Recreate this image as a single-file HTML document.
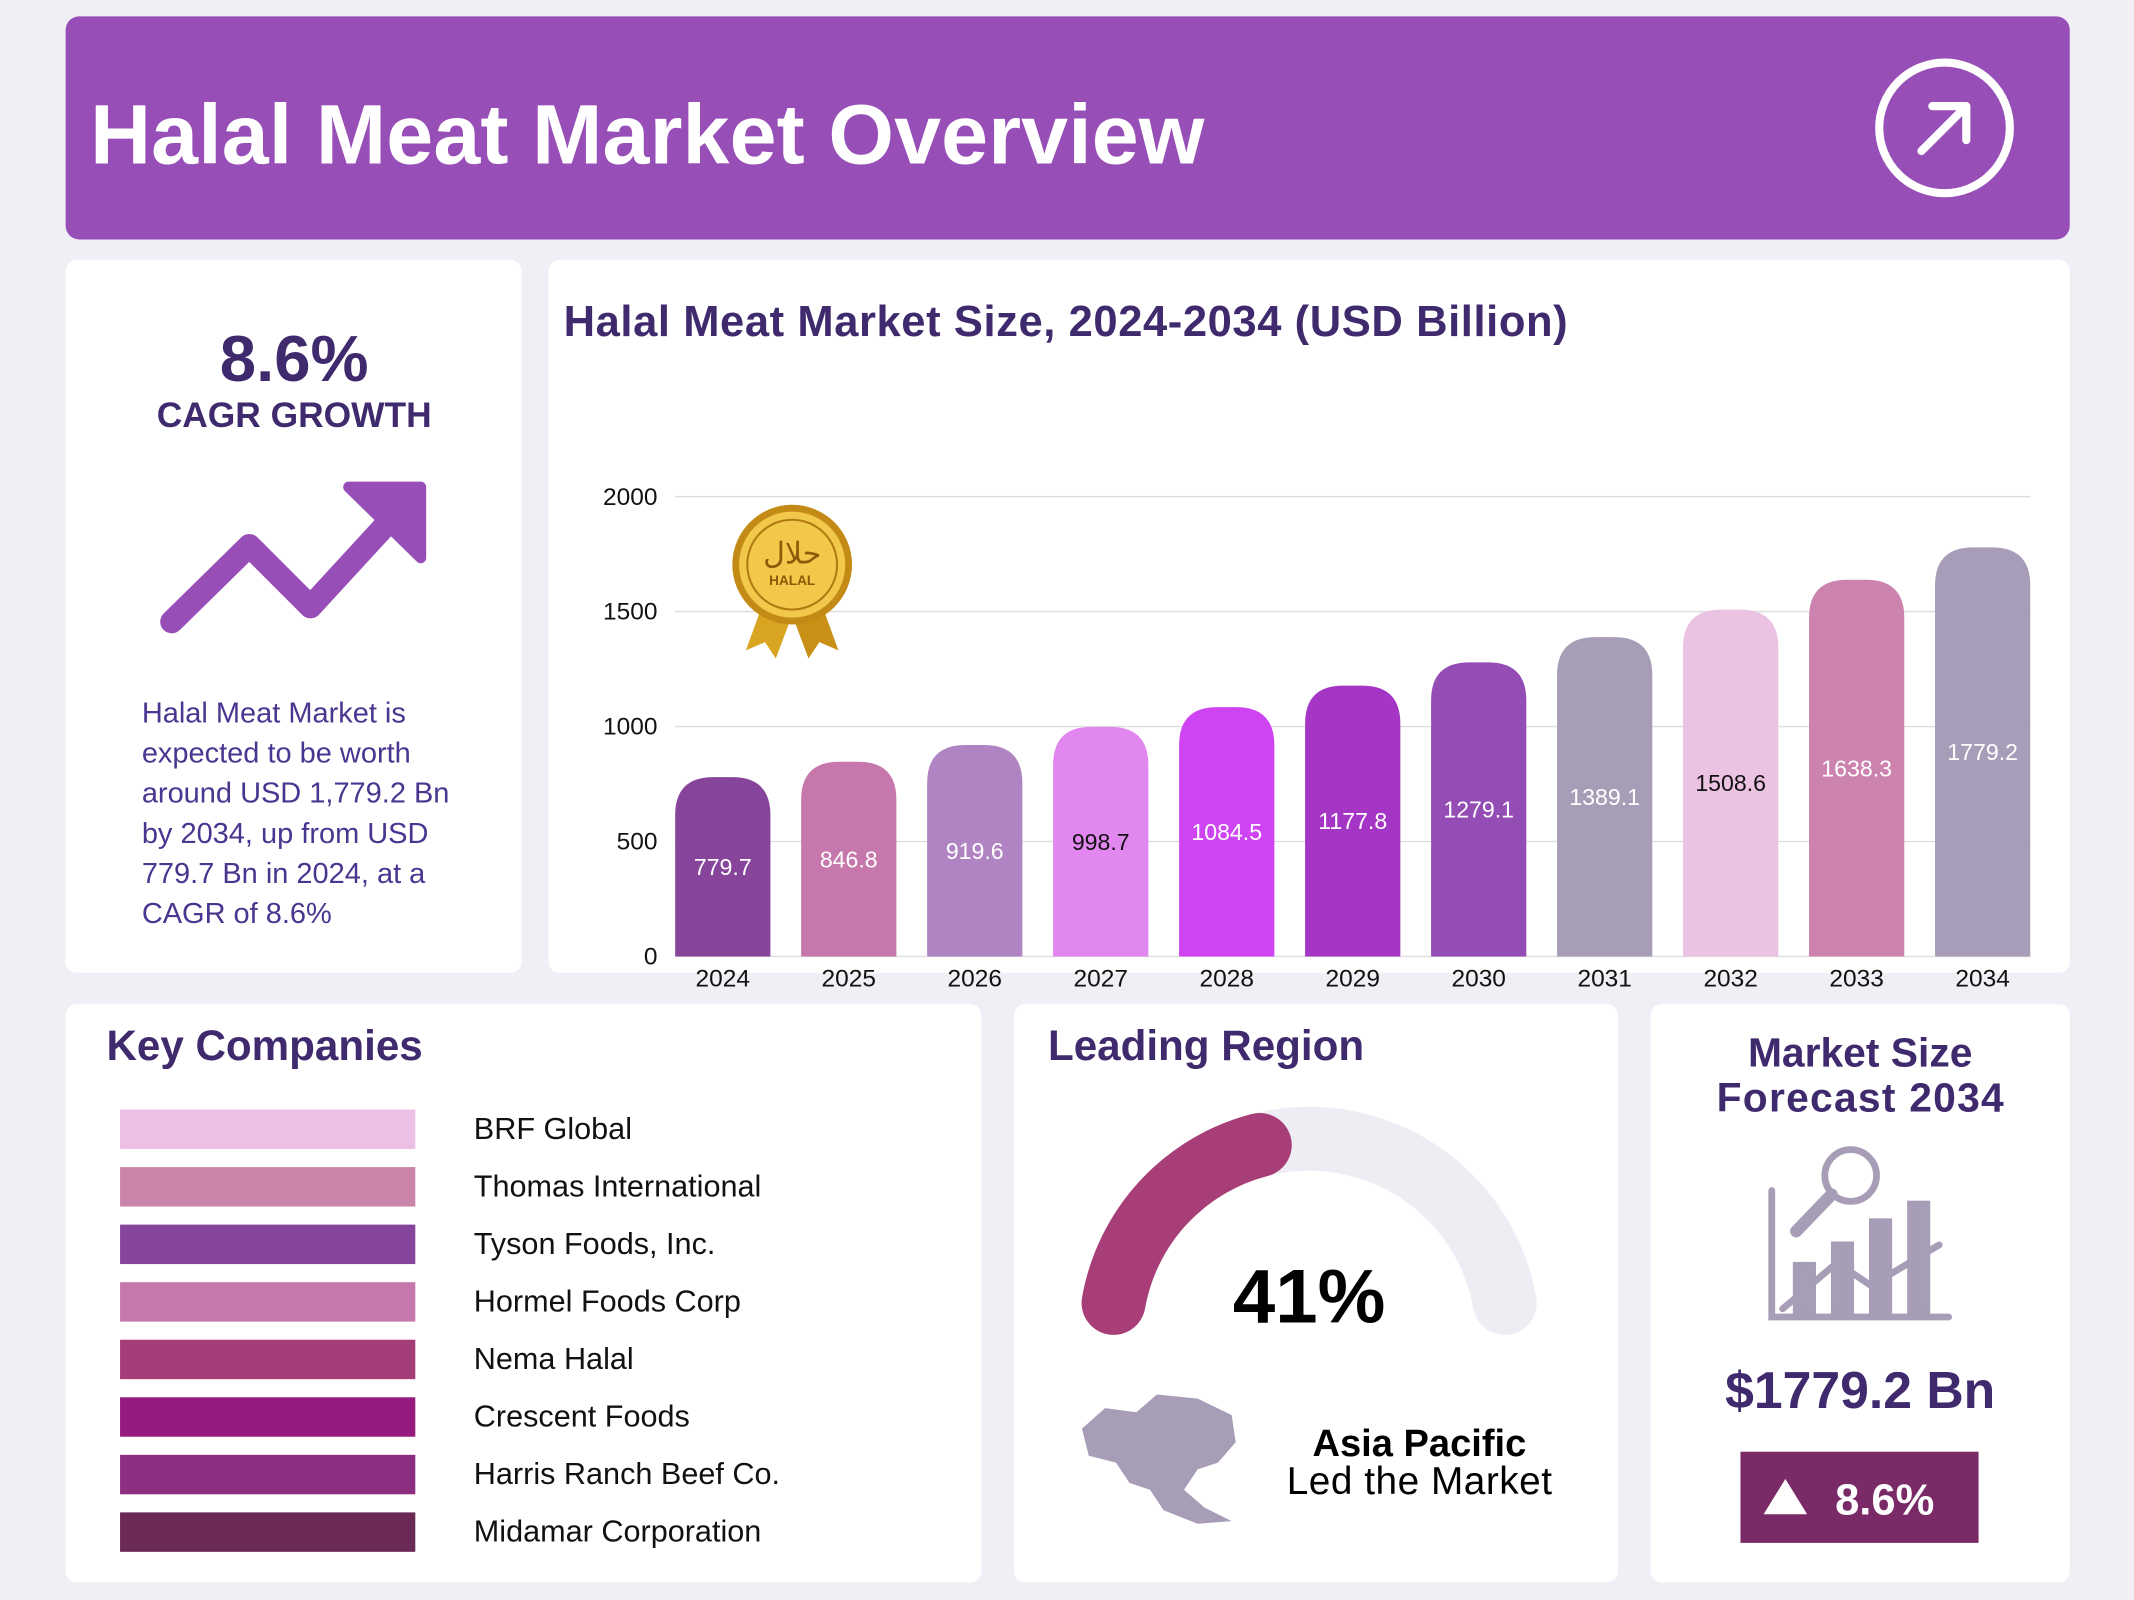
<!DOCTYPE html>
<html><head><meta charset="utf-8"><style>
html,body{margin:0;padding:0;background:#f0eff5;}
svg{display:block;font-family:"Liberation Sans",sans-serif;}
</style></head><body>
<svg id="page" width="2134" height="1600" viewBox="0 0 1568 1176" xmlns="http://www.w3.org/2000/svg">
<rect x="0" y="0" width="1568" height="1176" fill="#f0eff5"/>
<g>
<rect x="48" y="12" width="1473" height="164" rx="10" fill="#974eb6"/>
<text x="66" y="120" font-size="62" font-weight="bold" fill="#fff" textLength="819">Halal Meat Market Overview</text>
<g>
<circle cx="1429" cy="94" r="48" fill="none" stroke="#fff" stroke-width="6"/>
<path d="M1412 111 L1445 78 M1420 78 L1445 78 L1445 103" fill="none" stroke="#fff" stroke-width="6" stroke-linecap="round" stroke-linejoin="round"/>
</g></g>

<g>
<rect x="48" y="191" width="335" height="524" rx="8" fill="#fff"/>
<text x="216" y="280" font-size="48" font-weight="bold" fill="#3f2a6e" text-anchor="middle">8.6%</text>
<text x="216" y="314" font-size="26" font-weight="bold" fill="#3f2a6e" text-anchor="middle">CAGR GROWTH</text>
<g>
<polyline points="126,457 183,401 228,446 296,372" fill="none" stroke="#974eb6" stroke-width="17" stroke-linecap="round" stroke-linejoin="round"/>
<polygon points="256,358 309,358 309,410" fill="#974eb6" stroke="#974eb6" stroke-width="8" stroke-linejoin="round"/>
</g>
<g font-size="21.3" fill="#4a3590">
<text x="104" y="531">Halal Meat Market is</text>
<text x="104" y="560.5">expected to be worth</text>
<text x="104" y="590">around USD 1,779.2 Bn</text>
<text x="104" y="619.5">by 2034, up from USD</text>
<text x="104" y="649">779.7 Bn in 2024, at a</text>
<text x="104" y="678.5">CAGR of 8.6%</text>
</g></g>

<g>
<rect x="403" y="191" width="1118" height="524" rx="8" fill="#fff"/>
<text x="414" y="247" font-size="32" font-weight="bold" fill="#3f2a6e" textLength="738">Halal Meat Market Size, 2024-2034 (USD Billion)</text>
<g id="chart"></g>
<g>
<polygon points="560,445 548,478 562,472 570,484 582,452" fill="#d9a520"/>
<polygon points="604,445 616,478 602,472 594,484 582,452" fill="#c99015"/>
<circle cx="582" cy="415" r="44" fill="#c48a16"/>
<circle cx="582" cy="415" r="39" fill="#f2c84b"/>
<circle cx="582" cy="415" r="33" fill="none" stroke="#b07a10" stroke-width="1.5"/>
<text x="582" y="414" font-size="22" fill="#8a5a08" text-anchor="middle" font-family="'Noto Sans CJK SC',sans-serif">حلال</text>
<text x="582" y="430" font-size="10" font-weight="bold" fill="#8a5a08" text-anchor="middle">HALAL</text>
</g></g>

<g>
<rect x="48" y="738" width="673" height="425" rx="8" fill="#fff"/>
<text x="78" y="779" font-size="31" font-weight="bold" fill="#3f2a6e">Key Companies</text>
<g id="companies"></g>
</g>

<g>
<rect x="745" y="738" width="444" height="425" rx="8" fill="#fff"/>
<text x="770" y="779" font-size="31" font-weight="bold" fill="#3f2a6e">Leading Region</text>
<g id="gauge"></g>
<text x="962" y="972" font-size="56" font-weight="bold" fill="#000" text-anchor="middle">41%</text>
<path d="M795 1050 L812 1035 L835 1038 L850 1025 L880 1028 L905 1040 L908 1060 L895 1075 L880 1080 L870 1095 L885 1108 L905 1118 L880 1120 L855 1110 L845 1095 L830 1090 L820 1075 L800 1070 Z" fill="#a79db7"/>
<text x="1043" y="1070" font-size="28" font-weight="bold" fill="#000" text-anchor="middle">Asia Pacific</text>
<text x="1043" y="1098" font-size="28.5" fill="#000" text-anchor="middle" textLength="195">Led the Market</text>
</g>

<g>
<rect x="1213" y="738" width="308" height="425" rx="8" fill="#fff"/>
<text x="1367" y="784" font-size="30" font-weight="bold" fill="#3f2a6e" text-anchor="middle">Market Size</text>
<text x="1367" y="817" font-size="30" font-weight="bold" fill="#3f2a6e" text-anchor="middle" textLength="211">Forecast 2034</text>
<g stroke="#a79db7" fill="none" stroke-width="5" stroke-linecap="round">
<path d="M1302 875 L1302 968 L1432 968"/>
<path d="M1310 962 L1350 928 L1375 945 L1425 915"/>
<rect x="1320" y="930" width="12" height="36" fill="#a79db7"/>
<rect x="1348" y="915" width="12" height="51" fill="#a79db7"/>
<rect x="1376" y="898" width="12" height="68" fill="#a79db7"/>
<rect x="1404" y="885" width="12" height="81" fill="#a79db7"/>
<circle cx="1360" cy="864" r="19"/>
<path d="M1346 878 L1320 905" stroke-width="9"/>
</g>
<text x="1367" y="1035" font-size="38" font-weight="bold" fill="#3f2a6e" text-anchor="middle">$1779.2 Bn</text>
<rect x="1279" y="1067" width="175" height="67" fill="#7a2a66"/>
<polygon points="1296,1113 1312,1087 1328,1113" fill="#fff"/>
<text x="1385" y="1113" font-size="32" font-weight="bold" fill="#fff" text-anchor="middle">8.6%</text>
</g>
</svg>
<script>
const years=["2024","2025","2026","2027","2028","2029","2030","2031","2032","2033","2034"];
const values=[779.7,846.8,919.6,998.7,1084.5,1177.8,1279.1,1389.1,1508.6,1638.3,1779.2];
const barColors=["#86459b","#c678ac","#b084c2","#e287f0","#cf44f2","#a535c5","#944db4","#a79db7","#ecc2e3","#cc84ae","#a89db9"];
const darkLabels=["2027","2032"];
const yTicks=[0,500,1000,1500,2000];
const companies=["BRF Global","Thomas International","Tyson Foods, Inc.","Hormel Foods Corp","Nema Halal","Crescent Foods","Harris Ranch Beef Co.","Midamar Corporation"];
const companyColors=["#ecc0e4","#cc85aa","#86459b","#c578ab","#a53d78","#961b7f","#8c2f80","#6a2a55"];
const regionShare=[41];

const NS="http://www.w3.org/2000/svg";
function mk(tag,attrs,parent){const e=document.createElementNS(NS,tag);for(const k in attrs)e.setAttribute(k,attrs[k]);parent.appendChild(e);return e;}
const chart=document.getElementById('chart');
const gx0=496,gx1=1492,bx0=484.7,bx1=1503.3,yBase=703,yTop=365,yMax=2000;
const yS=v=>yBase-(v/yMax)*(yBase-yTop);
const step=(bx1-bx0)/years.length;
const xC=i=>bx0+step*(i+0.5);
yTicks.forEach(t=>{
  const l=mk('line',{x1:gx0,x2:gx1,y1:yS(t),y2:yS(t),stroke:'#dddddd','stroke-width':1},chart);
  
  
  const tx=mk('text',{x:483,y:yS(t)+6,'font-size':18,fill:'#111','text-anchor':'end'},chart);
  tx.textContent=t;
  
  
});
const bw=70;
years.forEach((yr,i)=>{
  const v=values[i],top=yS(v),cx=xC(i),l=cx-bw/2,r=cx+bw/2,rad=28;
  const p=mk('path',{d:`M${l} ${yBase} L${l} ${top+rad} Q${l} ${top} ${l+rad} ${top} L${r-rad} ${top} Q${r} ${top} ${r} ${top+rad} L${r} ${yBase} Z`,fill:barColors[i]},chart);
  
  
  const vl=mk('text',{x:cx,y:(top+yBase)/2+6,'font-size':17,fill:darkLabels.includes(yr)?'#111':'#fff','text-anchor':'middle'},chart);
  vl.textContent=v.toFixed(1);
  
  
  const xl=mk('text',{x:cx,y:725,'font-size':18,fill:'#111','text-anchor':'middle'},chart);
  xl.textContent=yr;
  
  
});
const cg=document.getElementById('companies');
companies.forEach((c,i)=>{
  const y=830+i*42.3;
  const r=mk('rect',{x:88,y:y-14.5,width:217,height:29,fill:companyColors[i]},cg);
  
  
  const t=mk('text',{x:348,y:y+7,'font-size':22.5,fill:'#111'},cg);
  t.textContent=c;
  
  
});
const g=document.getElementById('gauge');
const gcx=962,gcy=983,gr=146,a0=170,a1=10;
const pt=a=>[gcx+gr*Math.cos(a*Math.PI/180),gcy-gr*Math.sin(a*Math.PI/180)];
const [sx,sy]=pt(a0),[tx2,ty2]=pt(a1);
const bg=mk('path',{d:`M${sx} ${sy} A${gr} ${gr} 0 0 1 ${tx2} ${ty2}`,fill:'none',stroke:'#eeedf3','stroke-width':47,'stroke-linecap':'round'},g);


const ae=a0-(a0-a1)*regionShare[0]/100;
const [ex,ey]=pt(ae);
const fg=mk('path',{d:`M${sx} ${sy} A${gr} ${gr} 0 0 1 ${ex} ${ey}`,fill:'none',stroke:'#a73e78','stroke-width':47,'stroke-linecap':'round'},g);


</script>
</body></html>
